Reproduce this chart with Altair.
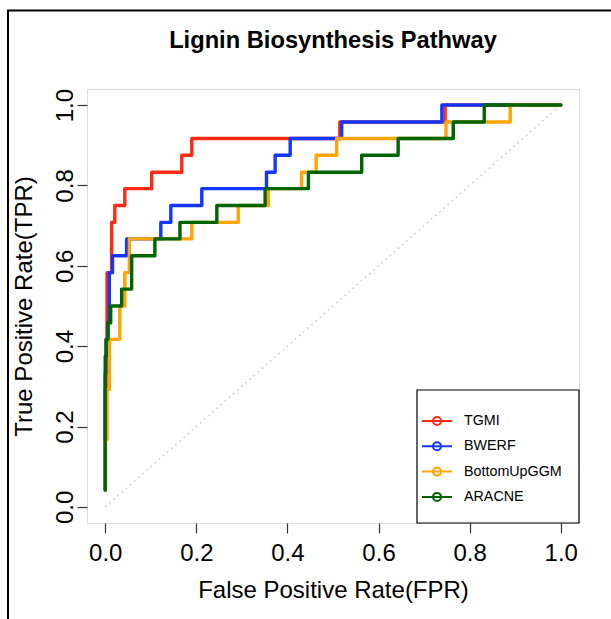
import altair as alt
import pandas as pd

# ---------------- data ----------------
methods = ["TGMI", "BWERF", "BottomUpGGM", "ARACNE"]
colors = ["#FF2A14", "#1437FF", "#FFA500", "#006400"]

tgmi_fpr = [0.0, 0.0, 0.002, 0.004, 0.014, 0.021, 0.043, 0.102, 0.168, 0.190, 0.515, 0.746, 1.0]
tgmi_tpr = [0.042, 0.292, 0.375, 0.583, 0.708, 0.750, 0.792, 0.833, 0.875, 0.917, 0.958, 1.0, 1.0]

bwerf_fpr = [0.0, 0.0, 0.002, 0.006, 0.009, 0.016, 0.047, 0.122, 0.144, 0.212, 0.354, 0.373, 0.406, 0.519, 0.739, 1.0]
bwerf_tpr = [0.042, 0.333, 0.417, 0.458, 0.583, 0.625, 0.667, 0.708, 0.750, 0.792, 0.833, 0.875, 0.917, 0.958, 1.0, 1.0]

bug_fpr = [0.0, 0.0, 0.004, 0.009, 0.032, 0.043, 0.053, 0.190, 0.292, 0.358, 0.431, 0.463, 0.508, 0.748, 0.889, 1.0]
bug_tpr = [0.042, 0.167, 0.292, 0.417, 0.500, 0.583, 0.667, 0.708, 0.750, 0.792, 0.833, 0.875, 0.917, 0.958, 1.0, 1.0]

aracne_fpr = [0.0, 0.0, 0.002, 0.006, 0.012, 0.036, 0.058, 0.109, 0.164, 0.245, 0.351, 0.446, 0.563, 0.643, 0.764, 0.832, 1.0]
aracne_tpr = [0.042, 0.375, 0.417, 0.458, 0.500, 0.542, 0.625, 0.667, 0.708, 0.750, 0.792, 0.833, 0.875, 0.917, 0.958, 1.0, 1.0]

diag_fpr = [0.0, 1.0]
diag_tpr = [0.0, 1.0]

axis_ticks = [0.0, 0.2, 0.4, 0.6, 0.8, 1.0]

series = [(methods[0], tgmi_fpr, tgmi_tpr),
          (methods[1], bwerf_fpr, bwerf_tpr),
          (methods[2], bug_fpr, bug_tpr),
          (methods[3], aracne_fpr, aracne_tpr)]

FONT = "Liberation Sans"
W, H = 492, 434

xscale = alt.Scale(domain=[-0.04, 1.04], nice=False, zero=False)
yscale = alt.Scale(domain=[-0.04, 1.04], nice=False, zero=False)
cscale = alt.Scale(domain=methods, range=colors)

x_axis = alt.Axis(values=axis_ticks, format=".1f", title="False Positive Rate(FPR)",
                  tickSize=10, tickColor="#333333", tickWidth=1.2, domain=False, grid=False,
                  labelFontSize=24, labelFont=FONT, labelColor="black", labelPadding=27,
                  labelBaseline="alphabetic", labelFlush=False, labelOverlap=False,
                  titleFontSize=24, titleFont=FONT, titleFontWeight="normal", titleColor="black",
                  titleY=74, titleBaseline="alphabetic")
y_axis = alt.Axis(values=axis_ticks, format=".1f", title="True Positive Rate(TPR)",
                  tickSize=10, tickColor="#333333", tickWidth=1.2, domain=False, grid=False,
                  labelFontSize=24, labelFont=FONT, labelColor="black", labelPadding=5,
                  labelAngle=270, labelAlign="center", labelBaseline="alphabetic",
                  labelFlush=False, labelOverlap=False,
                  titleFontSize=24, titleFont=FONT, titleFontWeight="normal", titleColor="black",
                  titleAngle=270, titleX=-56, titleY=H / 2, titleAlign="center",
                  titleBaseline="alphabetic")

legend_symbol = "M-1.5,0L1.5,0M-0.4,0A0.4,0.4,0,1,1,0.4,0A0.4,0.4,0,1,1,-0.4,0"
legend = alt.Legend(title=None, orient="none", legendX=339, legendY=321,
                    symbolType=legend_symbol, symbolSize=400, symbolStrokeWidth=2,
                    labelFontSize=14.3, labelFont=FONT, labelColor="black",
                    labelOffset=16, rowPadding=6.3, padding=0)

diag_df = pd.DataFrame({"fpr": diag_fpr, "tpr": diag_tpr})
diag = alt.Chart(diag_df).mark_line(color="#c8c8c8", strokeWidth=1.5, strokeDash=[1.5, 4]).encode(
    x=alt.X("fpr:Q", scale=xscale, axis=x_axis),
    y=alt.Y("tpr:Q", scale=yscale, axis=y_axis),
)

layers = [diag]
for name, fx, ty in series:
    df = pd.DataFrame({"model": name, "fpr": fx, "tpr": ty, "idx": list(range(len(fx)))})
    layers.append(
        alt.Chart(df).mark_line(interpolate="step-after", strokeWidth=3.4,
                                strokeCap="round", strokeJoin="round").encode(
            x=alt.X("fpr:Q", scale=xscale, axis=x_axis),
            y=alt.Y("tpr:Q", scale=yscale, axis=y_axis),
            color=alt.Color("model:N", scale=cscale, legend=legend),
            order=alt.Order("idx:Q"),
        )
    )

one = alt.Data(values=[{}])
legend_box = alt.Chart(one).mark_rect(fill="white", stroke="black", strokeWidth=1.2).encode(
    x=alt.value(330), x2=alt.value(W), y=alt.value(301), y2=alt.value(H))
frame_left = alt.Chart(one).mark_rule(color="black", strokeWidth=2).encode(
    x=alt.value(-79), y=alt.value(-79), y2=alt.value(560))
frame_top = alt.Chart(one).mark_rule(color="black", strokeWidth=2).encode(
    x=alt.value(-80), x2=alt.value(560), y=alt.value(-78.5))

chart = alt.layer(*layers, legend_box, frame_left, frame_top).properties(
    width=W, height=H,
    title=alt.TitleParams("Lignin Biosynthesis Pathway", fontSize=23.7, fontWeight="bold",
                          font=FONT, color="black", anchor="middle", offset=0, dy=68,
                          baseline="bottom"),
    autosize=alt.AutoSizeParams(type="none"),
    padding={"left": 87, "top": 89, "right": 32, "bottom": 96},
).configure_view(stroke="#333333", strokeWidth=1.2).configure(background="white")

chart.save("out.html", embed_options={"renderer": "svg", "actions": False})
